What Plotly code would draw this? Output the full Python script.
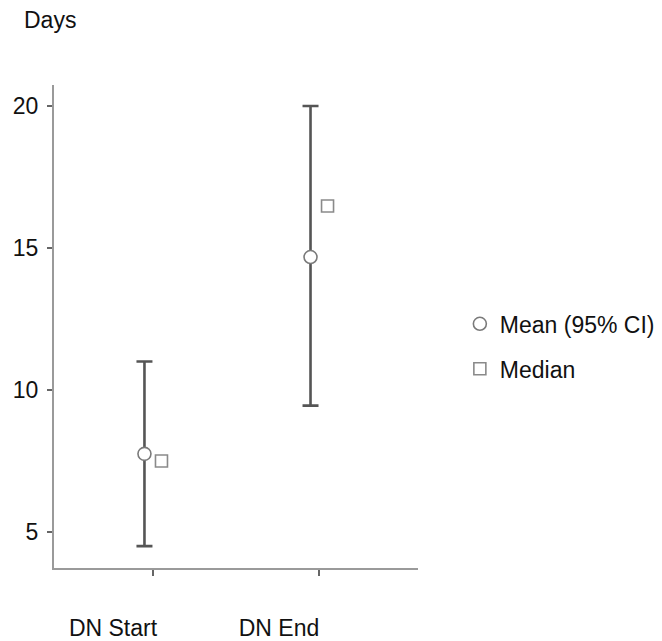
import plotly.graph_objects as go

categories = ["DN Start", "DN End"]
mean_values = [7.75, 14.68]
ci_upper = [11.0, 20.0]
ci_lower = [4.5, 9.45]
median_values = [7.5, 16.48]
y_tick_values = [5, 10, 15, 20]
y_title = "Days"

err_plus = [u - m for u, m in zip(ci_upper, mean_values)]
err_minus = [m - l for m, l in zip(mean_values, ci_lower)]

FONT = "Liberation Sans, Arial, sans-serif"

fig = go.Figure()
fig.add_trace(go.Scatter(
    x=categories, y=mean_values, mode="markers", name="Mean (95% CI)",
    offsetgroup="mean", legendgroup="mean",
    marker=dict(symbol="circle", size=13, color="white",
                line=dict(color="#7a7a7a", width=1.6)),
    error_y=dict(type="data", array=err_plus, arrayminus=err_minus,
                 color="#555555", thickness=2.6, width=8),
))
fig.add_trace(go.Scatter(
    x=categories, y=median_values, mode="markers", name="Median",
    offsetgroup="median", legendgroup="median",
    marker=dict(symbol="square", size=12, color="white",
                line=dict(color="#8a8a8a", width=1.6)),
))

fig.update_layout(
    width=662, height=641,
    margin=dict(l=54, r=244, t=85, b=73, autoexpand=False),
    paper_bgcolor="white", plot_bgcolor="white",
    font=dict(family=FONT, size=23, color="#111111"),
    scattermode="group", scattergap=0.795,
    showlegend=True,
    legend=dict(x=1.115, xanchor="left", y=0.55, yanchor="top",
                font=dict(size=23), tracegroupgap=12,
                bgcolor="rgba(0,0,0,0)"),
    annotations=[dict(text=y_title, xref="paper", yref="paper",
                      x=-0.012, y=1.0, yshift=65, xanchor="center",
                      yanchor="middle", showarrow=False,
                      font=dict(size=23))],
)
fig.update_xaxes(
    type="category", range=[-0.596, 1.596],
    showline=True, linecolor="#9a9a9a", linewidth=2.2,
    ticks="outside", ticklen=6, tickwidth=1.6, tickcolor="#666666",
    showgrid=False, zeroline=False,
    ticklabelshift=-40, ticklabelstandoff=32,
)
fig.update_yaxes(
    range=[3.73, 20.74], tickvals=y_tick_values,
    showline=True, linecolor="#9a9a9a", linewidth=2.2,
    ticks="outside", ticklen=5, tickwidth=1.6, tickcolor="#666666",
    showgrid=False, zeroline=False, ticklabelstandoff=4,
)

fig.write_html(
    "out.html",
    config={"displayModeBar": False},
    post_script="document.body.style.margin='0';"
                "document.body.style.padding='0';"
                "document.body.style.overflow='hidden';",
)
